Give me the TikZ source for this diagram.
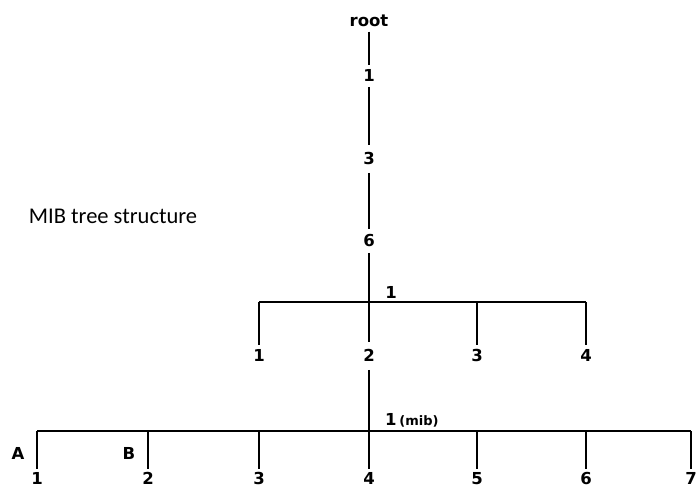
\documentclass[tikz,border=0pt]{standalone}
\usepackage{fontspec}
\newfontfamily\lbf{DejaVu Sans}
\newfontfamily\capf{Carlito}
\begin{document}
\begin{tikzpicture}[x=1pt,y=-1pt,
  lbl/.style={font=\lbf\bfseries\fontsize{16.5}{18}\selectfont, inner xsep=1pt, inner ysep=5pt, text height=11.5pt, text depth=0pt},
  branch/.style={line width=2.3pt, line cap=butt}]
\useasboundingbox[fill=white] (0,0) rectangle (700,490);
% vertical chain
\node[lbl, text height=9pt] (root) at (369,22) {root};
\node[lbl] (a1) at (369,76) {1};
\node[lbl, inner ysep=8pt] (a3) at (369,159) {3};
\node[lbl, inner ysep=6pt] (a6) at (369,241) {6};
\coordinate (j1) at (369,302);
% level 1
\node[lbl] (b1) at (259,356) {1};
\node[lbl, inner ysep=8pt] (b2) at (369,356) {2};
\node[lbl] (b3) at (477,356) {3};
\node[lbl] (b4) at (586,356) {4};
\node[lbl, inner ysep=0pt] (l1) at (391,293) {1};
\coordinate (j2) at (369,431);
% level 2
\foreach \n/\x/\t in {c1/37/1, c2/148/2, c3/259/3, c4/369/4, c5/477/5, c6/586/6, c7/691/7}
  \node[lbl, inner ysep=1pt] (\n) at (\x,479) {\t};
\node[lbl, inner ysep=0pt] (lA) at (18,454) {A};
\node[lbl, inner ysep=0pt] (lB) at (129,454) {B};
\node[lbl, inner ysep=0pt, anchor=west, inner xsep=0pt] (mib) at (385,420) {1\,{\fontsize{13}{15}\selectfont(mib)}};
% caption
\node[font=\capf\fontsize{22.5}{26}\selectfont, inner sep=0pt] (cap) at (113,216) {MIB tree structure};
% connectors
\draw[branch] (root) -- (a1);
\draw[branch] (a1) -- (a3);
\draw[branch] (a3) -- (a6);
\draw[branch] (a6) -- (b2);
\draw[branch] (b1 |- j1) -- (b4 |- j1);
\foreach \n in {b1,b3,b4} \draw[branch] (\n |- j1) -- (\n);
\draw[branch, shorten >=3.5pt] (b2) -- (c4);
\draw[branch] (c1 |- j2) -- (c7 |- j2);
\foreach \n in {c1,c2,c3,c5,c6,c7} \draw[branch, shorten >=3.5pt] (\n |- j2) -- (\n);
\end{tikzpicture}
\end{document}
